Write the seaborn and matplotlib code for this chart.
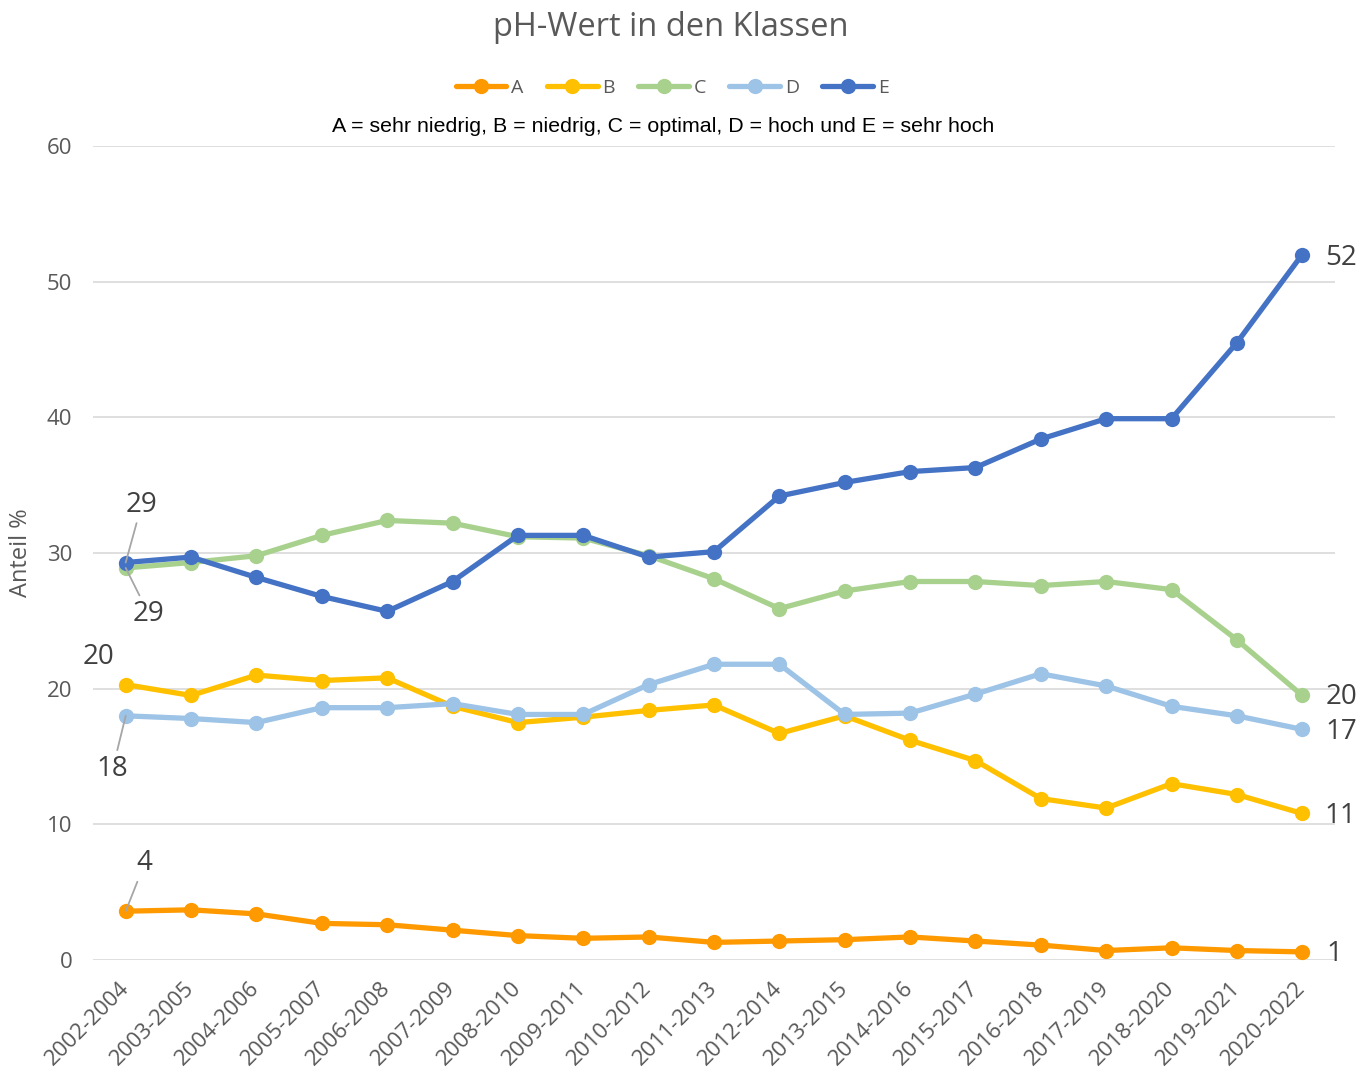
import matplotlib
matplotlib.use("Agg")
import matplotlib.pyplot as plt
from matplotlib.lines import Line2D
import seaborn as sns
import pandas as pd

# Zeitraeume (x-Achse)
periods = ['2002-2004', '2003-2005', '2004-2006', '2005-2007', '2006-2008', '2007-2009',
           '2008-2010', '2009-2011', '2010-2012', '2011-2013', '2012-2014', '2013-2015',
           '2014-2016', '2015-2017', '2016-2018', '2017-2019', '2018-2020', '2019-2021',
           '2020-2022']

# Anteil % je Klasse
klasse_a = [3.6, 3.7, 3.4, 2.7, 2.6, 2.2, 1.8, 1.6, 1.7, 1.3, 1.4, 1.5, 1.7, 1.4, 1.1, 0.7, 0.9, 0.7, 0.6]
klasse_b = [20.3, 19.5, 21.0, 20.6, 20.8, 18.7, 17.5, 17.9, 18.4, 18.8, 16.7, 18.0, 16.2, 14.7, 11.9, 11.2, 13.0, 12.2, 10.8]
klasse_c = [28.9, 29.3, 29.8, 31.3, 32.4, 32.2, 31.2, 31.1, 29.8, 28.1, 25.9, 27.2, 27.9, 27.9, 27.6, 27.9, 27.3, 23.6, 19.5]
klasse_d = [18.0, 17.8, 17.5, 18.6, 18.6, 18.9, 18.1, 18.1, 20.3, 21.8, 21.8, 18.1, 18.2, 19.6, 21.1, 20.2, 18.7, 18.0, 17.0]
klasse_e = [29.3, 29.7, 28.2, 26.8, 25.7, 27.9, 31.3, 31.3, 29.7, 30.1, 34.2, 35.2, 36.0, 36.3, 38.4, 39.9, 39.9, 45.5, 52.0]

klassen = ['A', 'B', 'C', 'D', 'E']
colors = ['#FF9900', '#FFC000', '#A9D18E', '#9DC3E6', '#4472C4']

series = dict(zip(klassen, [klasse_a, klasse_b, klasse_c, klasse_d, klasse_e]))
df = pd.concat([pd.DataFrame({'Zeitraum': periods, 'Anteil': v, 'Klasse': k})
                for k, v in series.items()], ignore_index=True)

sns.set_style('white')
plt.rcParams['font.family'] = ['Open Sans', 'DejaVu Sans']

fig = plt.figure(figsize=(13.58, 10.68), dpi=100)
ax = fig.add_axes([0.0685, 0.1011, 0.9145, 0.7622])

sns.lineplot(data=df, x='Zeitraum', y='Anteil', hue='Klasse', palette=colors,
             marker='o', markersize=11, markeredgewidth=0, linewidth=3.8,
             sort=False, legend=False, ax=ax)

ax.set_ylim(0, 60)
ax.set_yticks(range(0, 61, 10))
ax.set_xlim(-0.5, len(periods) - 0.5)
ax.grid(axis='y', color='#D9D9D9', linewidth=1.2)
ax.set_axisbelow(True)
for s in ax.spines.values():
    s.set_visible(False)
ax.tick_params(axis='both', length=0, colors='#595959', labelsize=16)
ax.tick_params(axis='y', pad=15)
ax.tick_params(axis='x', pad=18)
plt.setp(ax.get_xticklabels(), rotation=45, ha='right', va='center', rotation_mode='anchor')
ax.set_xlabel('')
ax.set_ylabel('Anteil %', fontsize=17, color='#595959')
ax.yaxis.set_label_coords(-0.0485, 0.5)

# Datenbeschriftungen
lab = dict(fontsize=20, color='#404040', ha='center', va='center', textcoords='offset pixels')
line = dict(arrowstyle='-', color='#A6A6A6', lw=1.3, shrinkA=1, shrinkB=0)
first = [('A', (19, 48), True), ('B', (-27, 28), False), ('C', (23, -46), True),
         ('D', (-13, -53), True), ('E', (16, 58), True)]
for k, off, has_line in first:
    v = series[k][0]
    ax.annotate(f'{v:.0f}', (periods[0], v), xytext=off,
                arrowprops=line if has_line else None, **lab)
last = {'A': (32, -2), 'B': (38, -3), 'C': (39, -2), 'D': (39, -3), 'E': (39, -3)}
for k, off in last.items():
    v = series[k][-1]
    ax.annotate(f'{v:.0f}', (periods[-1], v), xytext=off, **lab)

fig.suptitle('pH-Wert in den Klassen', x=0.494, y=0.99, fontsize=23.5, color='#595959')

handles = [Line2D([0], [0], color=c, lw=3.8, marker='o', markersize=11, markeredgewidth=0)
           for c in colors]
fig.legend(handles, klassen, loc='center', bbox_to_anchor=(0.495, 0.9176), ncol=5,
           frameon=False, fontsize=14, labelcolor='#595959', handlelength=2.6,
           handletextpad=0.25, columnspacing=1.2)

fig.text(0.4885, 1 - 126 / 1068, 'A = sehr niedrig, B = niedrig, C = optimal, D = hoch und E = sehr hoch',
         ha='center', va='center', fontsize=15.4, family='Liberation Sans', color='black')

fig.savefig('out.png', dpi=100)
